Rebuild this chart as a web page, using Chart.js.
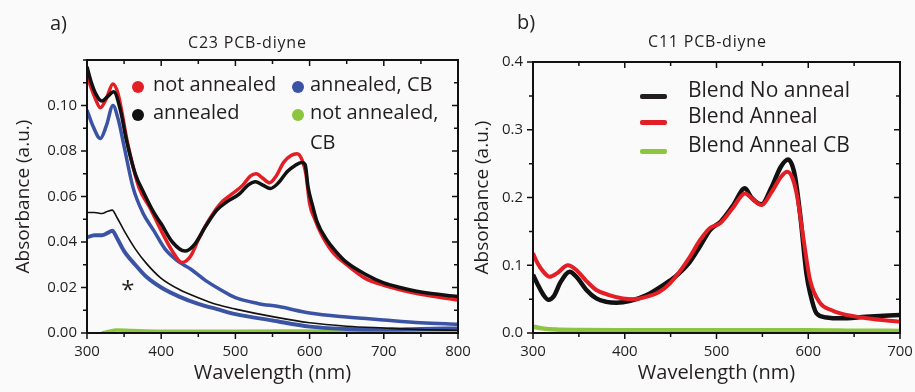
<!DOCTYPE html>
<html>
<head>
<meta charset="utf-8">
<script src="https://cdn.jsdelivr.net/npm/chart.js@4.4.0/dist/chart.umd.min.js"></script>
<style>
  body { margin: 0; background: #fafafa; font-family: "Open Sans", sans-serif; color: #231f20; }
  #wrap { position: relative; width: 915px; height: 392px; overflow: hidden; }
  canvas { position: absolute; top: 0; }
  .txt { position: absolute; white-space: nowrap; line-height: 20px; }
  .dot { position: absolute; width: 12px; height: 12px; border-radius: 50%; }
  .bar { position: absolute; width: 27px; height: 5px; border-radius: 2px; }
</style>
</head>
<body>
<div id="wrap">
  <canvas id="chart-a" width="470" height="392" style="left:0"></canvas>
  <canvas id="chart-b" width="455" height="392" style="left:460px"></canvas>

  <div class="txt" style="left:50px;top:13px;font-size:20px">a)</div>
  <div class="txt" style="left:517px;top:12px;font-size:20px">b)</div>
  <div class="txt" style="left:188px;top:32px;font-size:16px;letter-spacing:0.8px">C23 PCB-diyne</div>
  <div class="txt" style="left:648px;top:31px;font-size:16px;letter-spacing:0.8px">C11 PCB-diyne</div>

  <!-- legend a -->
  <div class="dot" style="left:132px;top:81px;background:#e31e24"></div>
  <div class="dot" style="left:132px;top:109px;background:#111"></div>
  <div class="dot" style="left:292px;top:81px;background:#3a53a4"></div>
  <div class="dot" style="left:292px;top:109px;background:#8cc63f"></div>
  <div class="txt" style="left:153px;top:74px;font-size:20px">not annealed</div>
  <div class="txt" style="left:153px;top:102px;font-size:20px">annealed</div>
  <div class="txt" style="left:310px;top:74px;font-size:20px">annealed, CB</div>
  <div class="txt" style="left:310px;top:102px;font-size:20px">not annealed,</div>
  <div class="txt" style="left:310px;top:132px;font-size:20px">CB</div>

  <!-- legend b -->
  <div class="bar" style="left:640px;top:94px;background:#231f20"></div>
  <div class="bar" style="left:640px;top:120px;background:#e31e24"></div>
  <div class="bar" style="left:640px;top:149px;background:#8cc63f"></div>
  <div class="txt" style="left:688px;top:79px;font-size:21px">Blend No anneal</div>
  <div class="txt" style="left:688px;top:105px;font-size:21px">Blend Anneal</div>
  <div class="txt" style="left:688px;top:134px;font-size:21px">Blend Anneal CB</div>
</div>

<script>
// ---- a) C23 PCB-diyne ----
const notAnnealedWl = [300, 310, 318, 326, 335, 342, 355, 370, 385, 400, 415, 428, 440, 450, 465, 480, 495, 510, 520, 528, 537, 546, 555, 565, 575, 583, 590, 595, 600, 607, 615, 630, 650, 675, 700, 750, 800];
const notAnnealedAbs = [0.113, 0.104, 0.099, 0.103, 0.1095, 0.105, 0.083, 0.064, 0.055, 0.045, 0.036, 0.031, 0.034, 0.041, 0.05, 0.057, 0.061, 0.065, 0.069, 0.07, 0.068, 0.066, 0.069, 0.075, 0.078, 0.0788, 0.076, 0.07, 0.057, 0.05, 0.044, 0.036, 0.03, 0.024, 0.021, 0.017, 0.0145];

const annealedWl = [300, 305, 312, 320, 328, 336, 345, 353, 365, 376, 390, 400, 415, 432, 445, 460, 475, 490, 505, 517, 527, 537, 547, 558, 570, 580, 589, 594, 598, 604, 610, 623, 635, 650, 677, 700, 722, 750, 800];
const annealedAbs = [0.117, 0.111, 0.105, 0.102, 0.104, 0.106, 0.098, 0.085, 0.07, 0.062, 0.053, 0.048, 0.04, 0.036, 0.039, 0.047, 0.054, 0.058, 0.061, 0.065, 0.0665, 0.065, 0.0635, 0.066, 0.071, 0.0735, 0.075, 0.074, 0.064, 0.056, 0.049, 0.041, 0.036, 0.031, 0.0255, 0.022, 0.02, 0.018, 0.016];

const annealedCbWl = [300, 308, 318, 326, 335, 342, 350, 362, 375, 390, 405, 425, 440, 460, 480, 500, 530, 560, 600, 650, 700, 750, 800];
const annealedCbAbs = [0.098, 0.091, 0.0855, 0.091, 0.1, 0.094, 0.082, 0.064, 0.053, 0.045, 0.037, 0.031, 0.028, 0.023, 0.019, 0.0155, 0.013, 0.0115, 0.0088, 0.007, 0.0057, 0.0045, 0.0038];

// the two lower traces (marked *)
const starWl = [300, 310, 320, 328, 334, 340, 350, 365, 380, 400, 425, 450, 475, 500, 550, 600, 650, 700, 750, 800];
const starBlackAbs = [0.053, 0.053, 0.0525, 0.0535, 0.054, 0.051, 0.045, 0.037, 0.0306, 0.024, 0.019, 0.0155, 0.0125, 0.0105, 0.0072, 0.0045, 0.003, 0.0022, 0.0015, 0.0012];
const starBlueAbs = [0.042, 0.043, 0.043, 0.044, 0.045, 0.042, 0.036, 0.03, 0.0247, 0.02, 0.0159, 0.0128, 0.0105, 0.0083, 0.0055, 0.0028, 0.0018, 0.0015, 0.0018, 0.002];

const notAnnealedCbWl = [320, 330, 340, 360, 400, 500, 600, 700, 800];
const notAnnealedCbAbs = [0, 0.0008, 0.0013, 0.0011, 0.0008, 0.0008, 0.0009, 0.001, 0.0012];

// ---- b) C11 PCB-diyne ----
const noAnnealWl = [300, 305, 311, 317, 323, 330, 340, 348, 358, 369, 380, 391, 405, 424, 442, 455, 471, 482, 493, 505, 518, 531, 538, 549, 560, 570, 578, 585, 591, 598, 602, 609, 620, 635, 663, 700];
const noAnnealAbs = [0.086, 0.072, 0.057, 0.049, 0.055, 0.075, 0.0905, 0.082, 0.064, 0.051, 0.046, 0.0448, 0.047, 0.056, 0.0708, 0.083, 0.105, 0.128, 0.152, 0.165, 0.188, 0.2136, 0.2, 0.19, 0.215, 0.245, 0.256, 0.235, 0.177, 0.088, 0.059, 0.029, 0.023, 0.0217, 0.024, 0.0266];

const annealWl = [300, 305, 311, 318, 326, 338, 348, 358, 369, 383, 398, 410, 424, 437, 449, 460, 471, 482, 493, 504, 518, 531, 540, 549, 560, 570, 577, 583, 588, 595, 602, 613, 625, 635, 664, 700];
const annealAbs = [0.1176, 0.103, 0.091, 0.083, 0.088, 0.1, 0.092, 0.077, 0.0635, 0.056, 0.051, 0.05, 0.0536, 0.06, 0.073, 0.091, 0.1126, 0.137, 0.155, 0.162, 0.185, 0.206, 0.197, 0.189, 0.208, 0.23, 0.238, 0.228, 0.201, 0.137, 0.078, 0.044, 0.034, 0.029, 0.0217, 0.0167];

const annealCbWl = [300, 310, 325, 350, 400, 500, 600, 650, 700];
const annealCbAbs = [0.0093, 0.0068, 0.005, 0.0043, 0.004, 0.004, 0.0042, 0.0035, 0.003];

const ink = "#231f20";
const tickFont = { family: "Open Sans", size: 15 };

function pts(xs, ys) {
  return xs.map((x, i) => ({ x: x, y: ys[i] }));
}

function line(label, xs, ys, color, width, order) {
  return {
    label: label,
    data: pts(xs, ys),
    borderColor: color,
    borderWidth: width,
    pointRadius: 0,
    cubicInterpolationMode: "monotone",
    order: order,
  };
}

function axis(position, min, max, step, size, labelFn, title, titlePad) {
  return {
    type: "linear",
    position: position,
    min: min,
    max: max,
    border: { display: false },
    grid: { display: false, drawTicks: false },
    ticks: {
      stepSize: step,
      autoSkip: false,
      maxRotation: 0,
      padding: 10,
      color: ink,
      font: tickFont,
      callback: labelFn,
    },
    title: {
      display: true,
      text: title,
      color: ink,
      font: { family: "Open Sans", size: position === "bottom" ? 20 : 19 },
      padding: titlePad,
    },
    afterFit: (scale) => {
      scale.paddingLeft = 0;
      scale.paddingRight = 0;
      scale.paddingTop = 0;
      scale.paddingBottom = 0;
      if (scale.isHorizontal()) scale.height = size;
      else scale.width = size;
    },
  };
}

// Origin-style box: ticks outside on bottom/left, mirrored inside on top/right
function drawBox(chart) {
  const ctx = chart.ctx;
  const a = chart.chartArea;
  const sx = chart.scales.x;
  const sy = chart.scales.y;
  ctx.save();
  ctx.strokeStyle = "#111111";
  ctx.lineWidth = 2;
  ctx.strokeRect(a.left, a.top, a.right - a.left, a.bottom - a.top);
  ctx.lineWidth = 1.5;
  ctx.beginPath();
  sx.ticks.forEach((t) => {
    const px = sx.getPixelForValue(t.value);
    const len = t.label === "" ? 4 : 6;
    ctx.moveTo(px, a.bottom);
    ctx.lineTo(px, a.bottom + len);
    ctx.moveTo(px, a.top);
    ctx.lineTo(px, a.top + len);
  });
  sy.ticks.forEach((t) => {
    const py = sy.getPixelForValue(t.value);
    const len = t.label === "" ? 4 : 6;
    ctx.moveTo(a.left, py);
    ctx.lineTo(a.left - len, py);
    ctx.moveTo(a.right, py);
    ctx.lineTo(a.right - len, py);
  });
  ctx.stroke();
  ctx.restore();
}

const xLabel = (v) => (v % 100 === 0 ? v : "");

new Chart(document.getElementById("chart-a"), {
  type: "line",
  data: {
    datasets: [
      line("not annealed, CB", notAnnealedCbWl, notAnnealedCbAbs, "#8cc63f", 3.5, 6),
      line("annealed, CB (*)", starWl, starBlueAbs, "#3a53a4", 4, 5),
      line("annealed (*)", starWl, starBlackAbs, "#111111", 1.6, 4),
      line("annealed, CB", annealedCbWl, annealedCbAbs, "#3a53a4", 3.5, 3),
      line("not annealed", notAnnealedWl, notAnnealedAbs, "#e31e24", 3.5, 2),
      line("annealed", annealedWl, annealedAbs, "#111111", 3.5, 1),
    ],
  },
  options: {
    responsive: false,
    animation: false,
    layout: { padding: { top: 60, right: 12, left: 0, bottom: 0 } },
    plugins: { legend: { display: false }, tooltip: { enabled: false } },
    scales: {
      x: axis("bottom", 300, 800, 50, 59, xLabel, "Wavelength (nm)", { top: 0, bottom: 7 }),
      y: axis("left", 0, 0.12, 0.01, 87, (v) => {
        const n = Math.round(v * 100);
        return n % 2 === 0 && n <= 10 ? (n / 100).toFixed(2) : "";
      }, "Absorbance (a.u.)", { top: 12, bottom: 0 }),
    },
  },
  plugins: [{
    id: "boxAndStar",
    afterDatasetsDraw(chart) {
      drawBox(chart);
      // the "*" marker next to the lower traces
      const { ctx, scales } = chart;
      ctx.save();
      ctx.fillStyle = ink;
      ctx.font = "24px 'Open Sans'";
      ctx.textAlign = "center";
      ctx.textBaseline = "middle";
      ctx.fillText("*", scales.x.getPixelForValue(355), scales.y.getPixelForValue(0.0185));
      ctx.restore();
    },
  }],
});

new Chart(document.getElementById("chart-b"), {
  type: "line",
  data: {
    datasets: [
      line("Blend Anneal CB", annealCbWl, annealCbAbs, "#8cc63f", 4.5, 3),
      line("Blend No anneal", noAnnealWl, noAnnealAbs, "#111111", 4.5, 2),
      line("Blend Anneal", annealWl, annealAbs, "#e31e24", 4, 1),
    ],
  },
  options: {
    responsive: false,
    animation: false,
    layout: { padding: { top: 62, right: 15, left: 0, bottom: 0 } },
    plugins: { legend: { display: false }, tooltip: { enabled: false } },
    scales: {
      x: axis("bottom", 300, 700, 50, 59, xLabel, "Wavelength (nm)", { top: 0, bottom: 7 }),
      y: axis("left", 0, 0.4, 0.05, 73, (v) => {
        const n = Math.round(v * 20);
        return n % 2 === 0 ? (n / 20).toFixed(1) : "";
      }, "Absorbance (a.u.)", { top: 11, bottom: 0 }),
    },
  },
  plugins: [{ id: "box", afterDatasetsDraw: drawBox }],
});
</script>
</body>
</html>
